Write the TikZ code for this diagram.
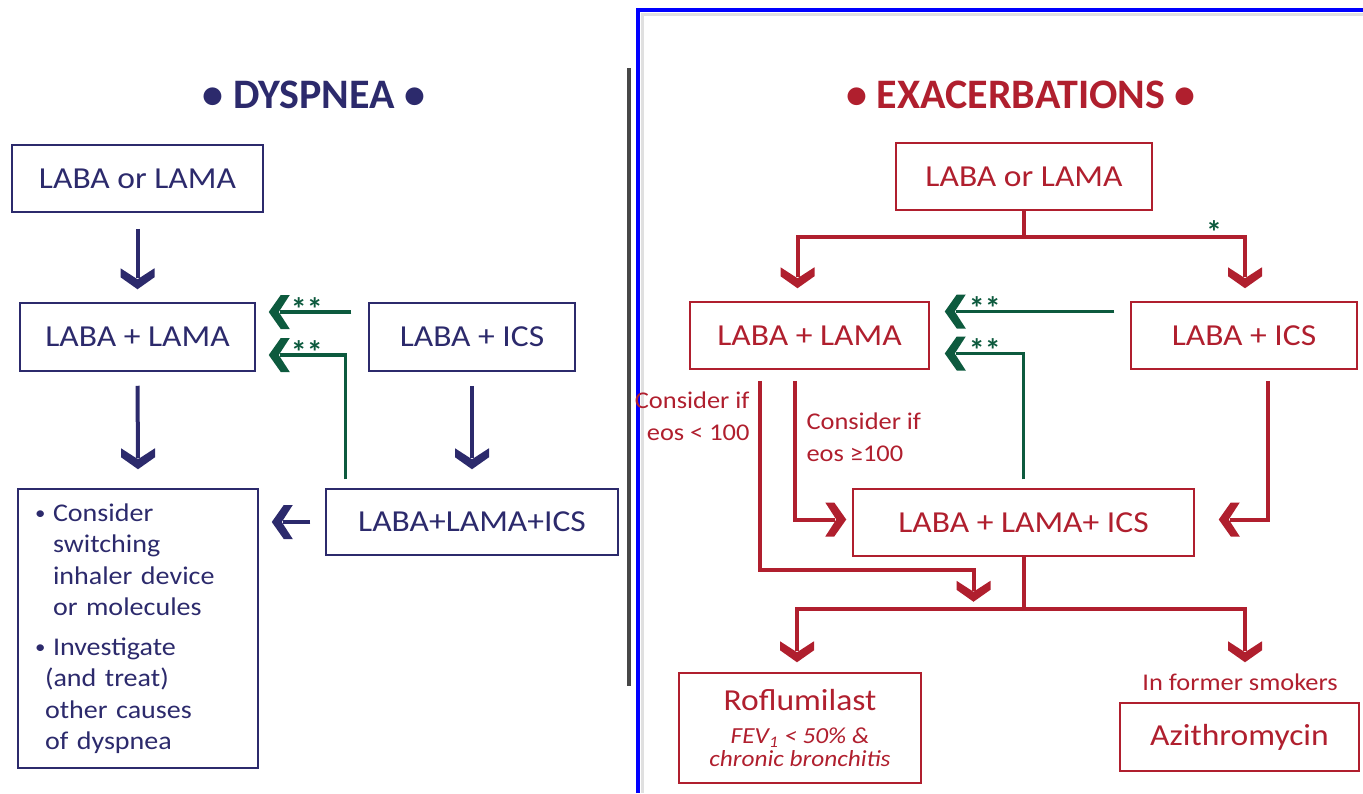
\documentclass[tikz,border=0pt]{standalone}
\usepackage{fontspec}
\setmainfont{Carlito}
\newfontfamily\widefont{Carlito}[FakeStretch=1.1]
\usetikzlibrary{positioning,calc}

\definecolor{dysblue}{HTML}{2C2A6C}
\definecolor{exred}{HTML}{B01F2E}
\definecolor{stargreen}{HTML}{0D5A3E}
\definecolor{frameblue}{HTML}{0000FF}

\newcommand{\smallbul}{\makebox[15pt][l]{\hspace{-3pt}\raisebox{1.5pt}{\fontsize{19}{19}\selectfont\textbullet}}}

\tikzset{
  bluebox/.style={draw=dysblue, line width=1.5pt, text=dysblue, inner sep=0pt, font=\widefont\fontsize{30.5}{36}\selectfont},
  redbox/.style={draw=exred, line width=1.5pt, text=exred, inner sep=0pt, font=\widefont\fontsize{30.5}{36}\selectfont},
  blueline/.style={draw=dysblue, line width=4pt},
  redline/.style={draw=exred, line width=4pt},
  greenline/.style={draw=stargreen, line width=3.5pt},
  stars/.style={text=stargreen, anchor=base, font=\fontsize{32}{32}\selectfont\bfseries},
  redtext/.style={text=exred, font=\widefont\fontsize{24}{32}\selectfont},
  chev/.pic={\fill (-17,-21) -- (0,-10) -- (17,-21) -- (17,-12) -- (0,0) -- (-17,-12) -- cycle;}
}

\begin{document}
\begin{tikzpicture}[x=1pt,y=-1pt]
  \useasboundingbox (0,0) rectangle (1363,793);
  %marco y separador
  \draw[black!12, line width=3pt] (642,793) -- (642,14) -- (1363,14);
  \draw[frameblue, line width=4pt] (638,793) -- (638,9.5) -- (1363,9.5);
  \draw[black!72, line width=4pt] (629,68) -- (629,686);

  %%%% DYSPNEA
  \node[text=dysblue, font=\fontsize{42}{46}\selectfont\bfseries] (dtitle) at (314,95) {\textbullet\ DYSPNEA \textbullet};
  \node[bluebox, minimum width=251pt, minimum height=67pt] (dl1) at (137.5,178.5) {LABA or LAMA};
  \node[bluebox, minimum width=235pt, minimum height=68pt] (dl2) at (137.5,337) {LABA + LAMA};
  \node[bluebox, minimum width=206pt, minimum height=68pt] (dics) at (472,337) {LABA + ICS};
  \node[bluebox, minimum width=292pt, minimum height=66pt] (dtriple) at (472,522) {LABA+LAMA+ICS};
  \node[bluebox, text width=200pt, inner xsep=20pt, minimum height=279pt, align=left,
        font=\widefont\fontsize{25.5}{31.5}\selectfont] (dother) at (138,628.5) {%
    \smallbul Consider\\
    \hspace*{15pt}switching\\
    \hspace*{15pt}inhaler device\\
    \hspace*{15pt}or molecules\\[8pt]
    \smallbul Investigate\\
    \hspace*{7pt}(and treat)\\
    \hspace*{7pt}other causes\\
    \hspace*{7pt}of dyspnea};

  %flechas azules
  \draw[blueline] ([yshift=-16pt]dl1.south) -- ([yshift=24pt]dl2.north);
  \pic[color=dysblue] at ([yshift=13pt]dl2.north) {chev};
  \draw[blueline] ([yshift=-14pt]dl2.south) -- ([yshift=30pt]dother.north);
  \pic[color=dysblue] at ([yshift=19pt]dother.north) {chev};
  \draw[blueline] ([yshift=-14pt]dics.south) -- ([yshift=30pt]dtriple.north);
  \pic[color=dysblue] at ([yshift=19pt]dtriple.north) {chev};
  \coordinate (dtip) at (dtriple.west -| dother.east);
  \draw[blueline] ([xshift=-15pt]dtriple.west) -- ([xshift=24pt]dtip);
  \pic[color=dysblue, rotate=-90] at ([xshift=13pt]dtip) {chev};

  %flechas verdes
  \coordinate (gu) at ([yshift=25pt]dl2.east);
  \coordinate (gl) at ([yshift=-18pt]dl2.east);
  \coordinate (gstart) at (gu -| dics.west);
  \draw[greenline] ($(gstart)+(-17,0)$) -- ($(gu)+(24,0)$);
  \pic[color=stargreen, rotate=-90] at ($(gu)+(13,0)$) {chev};
  \node[stars] (s1) at ($(gu)+(51,8)$) {**};
  \draw[greenline] ($(dtriple.north west)+(20,-9)$) |- ($(gl)+(24,0)$);
  \pic[color=stargreen, rotate=-90] at ($(gl)+(13,0)$) {chev};
  \node[stars] (s2) at ($(gl)+(51,8)$) {**};

  %%%% EXACERBATIONS
  \node[text=exred, font=\fontsize{42}{46}\selectfont\bfseries] (etitle) at (1021,95) {\textbullet\ EXACERBATIONS \textbullet};
  \node[redbox, minimum width=256pt, minimum height=67pt] (el1) at (1024,176.5) {LABA or LAMA};
  \node[redbox, minimum width=239pt, minimum height=67pt] (el2) at (809.5,335.5) {LABA + LAMA};
  \node[redbox, minimum width=226pt, minimum height=67pt] (eics) at (1244,335.5) {LABA + ICS};
  \node[redbox, minimum width=341pt, minimum height=67pt] (etriple) at (1023.5,522.5) {LABA + LAMA+ ICS};
  \node[redbox, minimum width=242pt, minimum height=110pt, align=center,
        font=\widefont\fontsize{23}{23}\selectfont] (erof) at (800,728)
    {{\fontsize{30.5}{36}\selectfont Roflumilast}\\[10pt]{\itshape FEV\textsubscript{1} < 50\% \&}\\{\itshape chronic bronchitis}};
  \node[redbox, minimum width=239pt, minimum height=68pt] (eazi) at (1239.5,737) {Azithromycin};
  \node[redtext] (smokers) at (1240,682) {In former smokers};
  \node[redtext, anchor=east, align=right] (lowcons) at (753,416) {Consider if\\eos < 100};
  \node[redtext, anchor=west, align=left] (highcons) at (803,437) {Consider if\\eos ≥100};

  %flechas rojas
  \coordinate (esplit) at ([yshift=-26pt]el1.south);
  \draw[redline] (el1.south) -- (esplit);
  \draw[redline] ($(el2.north)+(-12,-24)$) |- (esplit) -| ($(eics.north)+(1,-24)$);
  \pic[color=exred] at ($(el2.north)+(-12,-13)$) {chev};
  \pic[color=exred] at ($(eics.north)+(1,-13)$) {chev};
  \node[stars] (s5) at ($(eics.north)+(-30,-58)$) {*};
  \draw[redline] ($(el2.south)+(-15,11)$) |- ($(etriple.west)+(-17,-3)$);
  \pic[color=exred, rotate=90] at ($(etriple.west)+(-6,-3)$) {chev};
  \draw[redline] ($(el2.south)+(-50,11)$) |- ($(etriple.south)+(-50,13)$) -- ($(etriple.south)+(-50,34)$);
  \pic[color=exred] at ($(etriple.south)+(-50,45)$) {chev};
  \draw[redline] ($(eics.south)+(24,11)$) |- ($(etriple.east)+(35,-3)$);
  \pic[color=exred, rotate=-90] at ($(etriple.east)+(24,-3)$) {chev};
  \coordinate (esplit2) at ([yshift=-52pt]etriple.south);
  \draw[redline] (etriple.south) -- (esplit2);
  \draw[redline] ($(erof.north)+(-3,-21)$) |- (esplit2) -| ($(eazi.north)+(5.5,-51)$);
  \pic[color=exred] at ($(erof.north)+(-3,-10)$) {chev};
  \pic[color=exred] at ($(eazi.north)+(5.5,-40)$) {chev};

  %flechas verdes
  \coordinate (egu) at ([yshift=24pt]el2.east);
  \coordinate (egl) at ([yshift=-18pt]el2.east);
  \coordinate (egstart) at (egu -| eics.west);
  \draw[greenline] ($(egstart)+(-16,0)$) -- ($(egu)+(26,0)$);
  \pic[color=stargreen, rotate=-90] at ($(egu)+(15,0)$) {chev};
  \node[stars] (s3) at ($(egu)+(55,8)$) {**};
  \draw[greenline] ($(etriple.north)+(0,-9)$) |- ($(egl)+(26,0)$);
  \pic[color=stargreen, rotate=-90] at ($(egl)+(15,0)$) {chev};
  \node[stars] (s4) at ($(egl)+(55,8)$) {**};
\end{tikzpicture}
\end{document}
